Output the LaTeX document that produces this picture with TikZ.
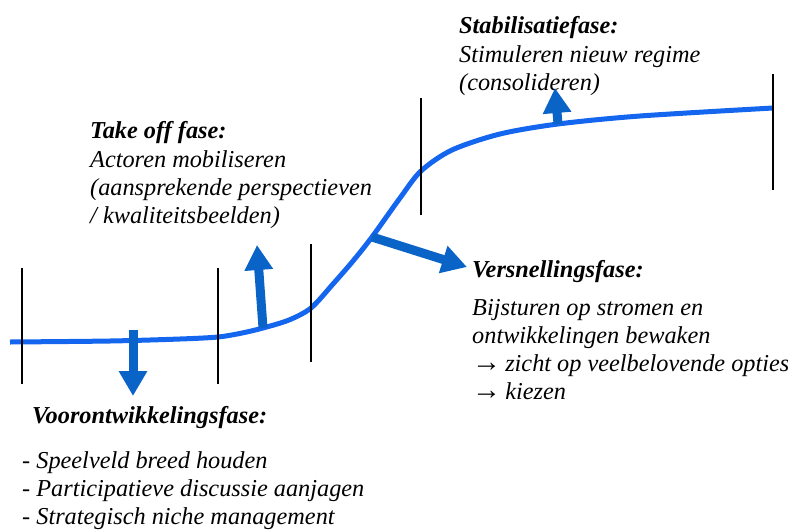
\documentclass[tikz,border=0pt]{standalone}
\usepackage{fontspec}
\setmainfont{Liberation Serif}
\usepackage{xcolor}
\definecolor{curveBlue}{HTML}{1466EE}
\definecolor{pushBlue}{HTML}{0A64C8}
\usepackage{tikz}
\usetikzlibrary{arrows.meta}
\tikzset{arrow/.style = {-{Triangle[width = 27pt, length = 25pt]}}}
\usetikzlibrary{positioning}
\newcommand{\lines}[1]{\begin{tabular}[t]{@{}l@{}}#1\end{tabular}}
\newcommand{\goesto}{{\upshape\fontsize{29}{28}\selectfont →}\,}

\begin{document}
\begin{tikzpicture}[x = 1pt, y = -1pt,
	phase/.style = {anchor = base west, inner sep = 0pt, font = \fontsize{24.3}{28}\selectfont\bfseries\itshape},
	body/.style = {anchor = base west, inner sep = 0pt, font = \fontsize{24.3}{28}\selectfont\itshape},
	bar/.style = {draw = black, line width = 1.3pt},
	push/.style = {draw = pushBlue, fill = pushBlue, line width = 9pt, arrow}]
	\useasboundingbox (0, 0) rectangle (788, 531);

	%% Curve
	\coordinate (c0) at (10, 342);
	\coordinate (c1) at (110, 341);
	\coordinate (c2) at (180, 339);
	\coordinate (c3) at (218, 337);
	\coordinate (c4) at (242, 333);
	\coordinate (c5) at (263, 328);
	\coordinate (c6) at (289, 320);
	\coordinate (c7) at (311, 308);
	\coordinate (c8) at (333, 284);
	\coordinate (c9) at (353, 261);
	\coordinate (c10) at (372, 237);
	\coordinate (c11) at (400, 198);
	\coordinate (c12) at (421, 171);
	\coordinate (c13) at (452, 150);
	\coordinate (c14) at (500, 134);
	\coordinate (c15) at (558, 124);
	\coordinate (c16) at (640, 116);
	\coordinate (c17) at (773, 108);
	\draw[curveBlue, line width = 5pt] plot[smooth, tension = 0.5] coordinates {(c0) (c1) (c2) (c3) (c4) (c5) (c6) (c7) (c8) (c9) (c10) (c11) (c12) (c13) (c14) (c15) (c16) (c17)};

	%% Phase borders
	\draw[bar] (22, 268) -- (22, 384);
	\draw[bar] (218, 268) -- (218, 384);
	\draw[bar] (311, 244) -- (311, 362);
	\draw[bar] (421, 98) -- (421, 215);
	\draw[bar] (773, 74) -- (773, 190);

	%% Texts
	\node[phase] (voor) at (32, 423) {Voorontwikkelingsfase:};
	\node[body] (voortext) at (22, 468) {\lines{- Speelveld breed houden\\- Participatieve discussie aanjagen\\- Strategisch niche management}};

	\node[phase] (takeoff) at (90, 138) {Take off fase:};
	\node[body] (takeofftext) at (90, 167) {\lines{Actoren mobiliseren\\(aansprekende perspectieven\\/ kwaliteitsbeelden)}};

	\node[phase] (versnel) at (472, 277) {Versnellingsfase:};
	\node[body] (versneltext) at (472, 315) {\lines{Bijsturen op stromen en\\ontwikkelingen bewaken\\\goesto zicht op veelbelovende opties\\\goesto kiezen}};

	\node[phase] (stabiel) at (459, 33) {Stabilisatiefase:};
	\node[body] (stabieltext) at (459, 62) {\lines{Stimuleren nieuw regime\\(consolideren)}};

	%% Arrows...
	\coordinate (voortip) at (133, 396);
	\coordinate (takeofftip) at (257, 245);
	\coordinate (versneltip) at (467, 267);
	\coordinate (stabieltip) at (555, 88);
	\coordinate (voorstart) at (133, 330);

	\draw[push] (voorstart) -- (voortip);
	\draw[push] (c5) -- (takeofftip);
	\draw[push] (c10) -- (versneltip);
	\draw[push] (c15) -- (stabieltip);
\end{tikzpicture}
\end{document}
